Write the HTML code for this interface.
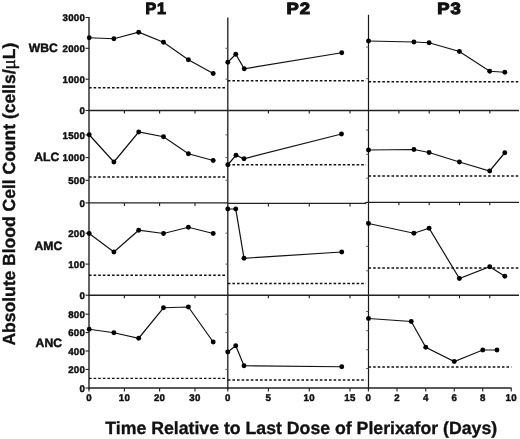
<!DOCTYPE html>
<html><head><meta charset="utf-8"><title>Figure</title>
<style>
html,body{margin:0;padding:0;background:#fff;}
svg{display:block;}
text{font-family:"Liberation Sans",sans-serif;font-weight:bold;fill:#111;text-rendering:geometricPrecision;}
.tk{font-size:9.7px;letter-spacing:0.25px;stroke:#111;stroke-width:0.45px;}
.lb{font-size:12.2px;stroke:#111;stroke-width:0.45px;}
.pt{font-size:16.3px;letter-spacing:0.9px;stroke:#111;stroke-width:1.1px;stroke-linejoin:miter;}
.ti{font-size:17.7px;stroke:#111;stroke-width:0.35px;}
.mu{stroke:#111;stroke-width:0.45px;font-family:"Liberation Serif",serif;font-weight:normal;font-size:19px;}
</style></head><body>
<svg width="520" height="439" viewBox="0 0 520 439">
<rect width="520" height="439" fill="#fff"/>
<line x1="89" y1="17" x2="89" y2="389.4" stroke="#222" stroke-width="1.4" />
<line x1="227.8" y1="17.5" x2="227.8" y2="389.5" stroke="#1c1c1c" stroke-width="1.3" />
<line x1="368.5" y1="14.8" x2="368.5" y2="389.5" stroke="#1a1a1a" stroke-width="1.2" />
<line x1="88.4" y1="110.5" x2="519" y2="110.5" stroke="#222" stroke-width="1.4" />
<line x1="88.4" y1="202.9" x2="227.8" y2="202.9" stroke="#222" stroke-width="1.4" />
<line x1="227.8" y1="203.4" x2="366.2" y2="203.4" stroke="#222" stroke-width="1.3" />
<polyline fill="none" stroke="#222" stroke-width="1.3" points="365,203.4 366.5,202.3 519,202.3"/>
<line x1="88.4" y1="295.2" x2="519" y2="295.2" stroke="#222" stroke-width="1.4" />
<line x1="88.4" y1="388.0" x2="511.5" y2="388.0" stroke="#222" stroke-width="1.4" />
<line x1="85.5" y1="17.5" x2="89" y2="17.5" stroke="#222" stroke-width="1.1" />
<text class="tk" x="85.1" y="21.10" text-anchor="end">3000</text>
<line x1="85.5" y1="48.3" x2="89" y2="48.3" stroke="#222" stroke-width="1.1" />
<text class="tk" x="85.1" y="51.90" text-anchor="end">2000</text>
<line x1="225.5" y1="48.3" x2="227.8" y2="48.3" stroke="#555" stroke-width="1.0" />
<line x1="85.5" y1="79.2" x2="89" y2="79.2" stroke="#222" stroke-width="1.1" />
<text class="tk" x="85.1" y="82.80" text-anchor="end">1000</text>
<line x1="225.5" y1="79.2" x2="227.8" y2="79.2" stroke="#555" stroke-width="1.0" />
<line x1="85.5" y1="110.5" x2="89" y2="110.5" stroke="#222" stroke-width="1.1" />
<text class="tk" x="85.1" y="114.10" text-anchor="end">0</text>
<line x1="85.5" y1="134.9" x2="89" y2="134.9" stroke="#222" stroke-width="1.1" />
<text class="tk" x="85.1" y="138.50" text-anchor="end">1500</text>
<line x1="225.5" y1="134.9" x2="227.8" y2="134.9" stroke="#555" stroke-width="1.0" />
<line x1="85.5" y1="157.6" x2="89" y2="157.6" stroke="#222" stroke-width="1.1" />
<text class="tk" x="85.1" y="161.20" text-anchor="end">1000</text>
<line x1="225.5" y1="157.6" x2="227.8" y2="157.6" stroke="#555" stroke-width="1.0" />
<line x1="85.5" y1="180.3" x2="89" y2="180.3" stroke="#222" stroke-width="1.1" />
<text class="tk" x="85.1" y="183.90" text-anchor="end">500</text>
<line x1="225.5" y1="180.3" x2="227.8" y2="180.3" stroke="#555" stroke-width="1.0" />
<line x1="85.5" y1="202.9" x2="89" y2="202.9" stroke="#222" stroke-width="1.1" />
<text class="tk" x="85.1" y="206.50" text-anchor="end">0</text>
<line x1="85.5" y1="233.2" x2="89" y2="233.2" stroke="#222" stroke-width="1.1" />
<text class="tk" x="85.1" y="236.80" text-anchor="end">200</text>
<line x1="225.5" y1="233.2" x2="227.8" y2="233.2" stroke="#555" stroke-width="1.0" />
<line x1="85.5" y1="264.1" x2="89" y2="264.1" stroke="#222" stroke-width="1.1" />
<text class="tk" x="85.1" y="267.70" text-anchor="end">100</text>
<line x1="225.5" y1="264.1" x2="227.8" y2="264.1" stroke="#555" stroke-width="1.0" />
<line x1="85.5" y1="295.2" x2="89" y2="295.2" stroke="#222" stroke-width="1.1" />
<text class="tk" x="85.1" y="298.80" text-anchor="end">0</text>
<line x1="85.5" y1="314.2" x2="89" y2="314.2" stroke="#222" stroke-width="1.1" />
<text class="tk" x="85.1" y="317.80" text-anchor="end">800</text>
<line x1="225.5" y1="314.2" x2="227.8" y2="314.2" stroke="#555" stroke-width="1.0" />
<line x1="85.5" y1="332.6" x2="89" y2="332.6" stroke="#222" stroke-width="1.1" />
<text class="tk" x="85.1" y="336.20" text-anchor="end">600</text>
<line x1="225.5" y1="332.6" x2="227.8" y2="332.6" stroke="#555" stroke-width="1.0" />
<line x1="85.5" y1="351" x2="89" y2="351" stroke="#222" stroke-width="1.1" />
<text class="tk" x="85.1" y="354.60" text-anchor="end">400</text>
<line x1="225.5" y1="351" x2="227.8" y2="351" stroke="#555" stroke-width="1.0" />
<line x1="85.5" y1="369.4" x2="89" y2="369.4" stroke="#222" stroke-width="1.1" />
<text class="tk" x="85.1" y="373.00" text-anchor="end">200</text>
<line x1="225.5" y1="369.4" x2="227.8" y2="369.4" stroke="#555" stroke-width="1.0" />
<line x1="85.5" y1="388.0" x2="89" y2="388.0" stroke="#222" stroke-width="1.1" />
<text class="tk" x="85.1" y="391.60" text-anchor="end">0</text>
<line x1="366.2" y1="47.0" x2="368.5" y2="47.0" stroke="#555" stroke-width="1.0" />
<line x1="366.2" y1="78.7" x2="368.5" y2="78.7" stroke="#555" stroke-width="1.0" />
<line x1="366.2" y1="130.1" x2="368.5" y2="130.1" stroke="#555" stroke-width="1.0" />
<line x1="366.2" y1="154.3" x2="368.5" y2="154.3" stroke="#555" stroke-width="1.0" />
<line x1="366.2" y1="178.2" x2="368.5" y2="178.2" stroke="#555" stroke-width="1.0" />
<line x1="366.2" y1="222.0" x2="368.5" y2="222.0" stroke="#555" stroke-width="1.0" />
<line x1="366.2" y1="246.4" x2="368.5" y2="246.4" stroke="#555" stroke-width="1.0" />
<line x1="366.2" y1="270.8" x2="368.5" y2="270.8" stroke="#555" stroke-width="1.0" />
<line x1="366.2" y1="311.5" x2="368.5" y2="311.5" stroke="#555" stroke-width="1.0" />
<line x1="366.2" y1="330.7" x2="368.5" y2="330.7" stroke="#555" stroke-width="1.0" />
<line x1="366.2" y1="349.8" x2="368.5" y2="349.8" stroke="#555" stroke-width="1.0" />
<line x1="366.2" y1="368.5" x2="368.5" y2="368.5" stroke="#555" stroke-width="1.0" />
<line x1="124.4" y1="110.5" x2="124.4" y2="113.5" stroke="#1a1a1a" stroke-width="1.1" />
<line x1="159.6" y1="110.5" x2="159.6" y2="113.5" stroke="#1a1a1a" stroke-width="1.1" />
<line x1="195" y1="110.5" x2="195" y2="113.5" stroke="#1a1a1a" stroke-width="1.1" />
<line x1="268.4" y1="110.5" x2="268.4" y2="113.5" stroke="#1a1a1a" stroke-width="1.1" />
<line x1="309.25" y1="110.5" x2="309.25" y2="113.5" stroke="#1a1a1a" stroke-width="1.1" />
<line x1="350" y1="110.5" x2="350" y2="113.5" stroke="#1a1a1a" stroke-width="1.1" />
<line x1="398.9" y1="110.5" x2="398.9" y2="113.5" stroke="#1a1a1a" stroke-width="1.1" />
<line x1="429.2" y1="110.5" x2="429.2" y2="113.5" stroke="#1a1a1a" stroke-width="1.1" />
<line x1="459.5" y1="110.5" x2="459.5" y2="113.5" stroke="#1a1a1a" stroke-width="1.1" />
<line x1="489.8" y1="110.5" x2="489.8" y2="113.5" stroke="#1a1a1a" stroke-width="1.1" />
<line x1="124.4" y1="202.9" x2="124.4" y2="205.9" stroke="#1a1a1a" stroke-width="1.1" />
<line x1="159.6" y1="202.9" x2="159.6" y2="205.9" stroke="#1a1a1a" stroke-width="1.1" />
<line x1="195" y1="202.9" x2="195" y2="205.9" stroke="#1a1a1a" stroke-width="1.1" />
<line x1="268.4" y1="203.4" x2="268.4" y2="206.4" stroke="#1a1a1a" stroke-width="1.1" />
<line x1="309.25" y1="203.4" x2="309.25" y2="206.4" stroke="#1a1a1a" stroke-width="1.1" />
<line x1="350" y1="203.4" x2="350" y2="206.4" stroke="#1a1a1a" stroke-width="1.1" />
<line x1="398.9" y1="202.3" x2="398.9" y2="205.3" stroke="#1a1a1a" stroke-width="1.1" />
<line x1="429.2" y1="202.3" x2="429.2" y2="205.3" stroke="#1a1a1a" stroke-width="1.1" />
<line x1="459.5" y1="202.3" x2="459.5" y2="205.3" stroke="#1a1a1a" stroke-width="1.1" />
<line x1="489.8" y1="202.3" x2="489.8" y2="205.3" stroke="#1a1a1a" stroke-width="1.1" />
<line x1="124.4" y1="295.2" x2="124.4" y2="298.2" stroke="#1a1a1a" stroke-width="1.1" />
<line x1="159.6" y1="295.2" x2="159.6" y2="298.2" stroke="#1a1a1a" stroke-width="1.1" />
<line x1="195" y1="295.2" x2="195" y2="298.2" stroke="#1a1a1a" stroke-width="1.1" />
<line x1="268.4" y1="295.2" x2="268.4" y2="298.2" stroke="#1a1a1a" stroke-width="1.1" />
<line x1="309.25" y1="295.2" x2="309.25" y2="298.2" stroke="#1a1a1a" stroke-width="1.1" />
<line x1="350" y1="295.2" x2="350" y2="298.2" stroke="#1a1a1a" stroke-width="1.1" />
<line x1="398.9" y1="295.2" x2="398.9" y2="298.2" stroke="#1a1a1a" stroke-width="1.1" />
<line x1="429.2" y1="295.2" x2="429.2" y2="298.2" stroke="#1a1a1a" stroke-width="1.1" />
<line x1="459.5" y1="295.2" x2="459.5" y2="298.2" stroke="#1a1a1a" stroke-width="1.1" />
<line x1="489.8" y1="295.2" x2="489.8" y2="298.2" stroke="#1a1a1a" stroke-width="1.1" />
<line x1="89" y1="388.0" x2="89" y2="391.5" stroke="#222" stroke-width="1.1" />
<text class="tk" x="89" y="401.3" text-anchor="middle">0</text>
<line x1="124.4" y1="388.0" x2="124.4" y2="391.5" stroke="#222" stroke-width="1.1" />
<text class="tk" x="124.4" y="401.3" text-anchor="middle">10</text>
<line x1="159.6" y1="388.0" x2="159.6" y2="391.5" stroke="#222" stroke-width="1.1" />
<text class="tk" x="159.6" y="401.3" text-anchor="middle">20</text>
<line x1="195" y1="388.0" x2="195" y2="391.5" stroke="#222" stroke-width="1.1" />
<text class="tk" x="195" y="401.3" text-anchor="middle">30</text>
<line x1="227.8" y1="388.0" x2="227.8" y2="391.5" stroke="#222" stroke-width="1.1" />
<text class="tk" x="227.8" y="401.3" text-anchor="middle">0</text>
<line x1="268.4" y1="388.0" x2="268.4" y2="391.5" stroke="#222" stroke-width="1.1" />
<text class="tk" x="268.4" y="401.3" text-anchor="middle">5</text>
<line x1="309.25" y1="388.0" x2="309.25" y2="391.5" stroke="#222" stroke-width="1.1" />
<text class="tk" x="309.25" y="401.3" text-anchor="middle">10</text>
<line x1="350" y1="388.0" x2="350" y2="391.5" stroke="#222" stroke-width="1.1" />
<text class="tk" x="350" y="401.3" text-anchor="middle">15</text>
<line x1="368.4" y1="388.0" x2="368.4" y2="391.5" stroke="#222" stroke-width="1.1" />
<text class="tk" x="368.4" y="401.3" text-anchor="middle">0</text>
<line x1="397" y1="388.0" x2="397" y2="391.5" stroke="#222" stroke-width="1.1" />
<text class="tk" x="397" y="401.3" text-anchor="middle">2</text>
<line x1="425.75" y1="388.0" x2="425.75" y2="391.5" stroke="#222" stroke-width="1.1" />
<text class="tk" x="425.75" y="401.3" text-anchor="middle">4</text>
<line x1="454.25" y1="388.0" x2="454.25" y2="391.5" stroke="#222" stroke-width="1.1" />
<text class="tk" x="454.25" y="401.3" text-anchor="middle">6</text>
<line x1="482.75" y1="388.0" x2="482.75" y2="391.5" stroke="#222" stroke-width="1.1" />
<text class="tk" x="482.75" y="401.3" text-anchor="middle">8</text>
<line x1="511.25" y1="388.0" x2="511.25" y2="391.5" stroke="#222" stroke-width="1.1" />
<text class="tk" x="511.25" y="401.3" text-anchor="middle">10</text>
<line x1="89" y1="87.7" x2="225.3" y2="87.7" stroke="#111" stroke-width="1.35" stroke-dasharray="2.6 2"/>
<polyline fill="none" stroke="#111" stroke-width="1.2" points="89.2,37.75 113.9,38.75 138.7,32.25 163.5,42.25 188.4,59.75 213.2,73.5"/>
<circle cx="89.2" cy="37.75" r="2.45" fill="#000"/>
<circle cx="113.9" cy="38.75" r="2.45" fill="#000"/>
<circle cx="138.7" cy="32.25" r="2.45" fill="#000"/>
<circle cx="163.5" cy="42.25" r="2.45" fill="#000"/>
<circle cx="188.4" cy="59.75" r="2.45" fill="#000"/>
<circle cx="213.2" cy="73.5" r="2.45" fill="#000"/>
<line x1="89" y1="176.95" x2="225.3" y2="176.95" stroke="#111" stroke-width="1.35" stroke-dasharray="2.6 2"/>
<polyline fill="none" stroke="#111" stroke-width="1.2" points="89.2,134.75 113.9,162.0 138.7,132.0 163.5,136.75 188.4,153.75 213.2,160.5"/>
<circle cx="89.2" cy="134.75" r="2.45" fill="#000"/>
<circle cx="113.9" cy="162.0" r="2.45" fill="#000"/>
<circle cx="138.7" cy="132.0" r="2.45" fill="#000"/>
<circle cx="163.5" cy="136.75" r="2.45" fill="#000"/>
<circle cx="188.4" cy="153.75" r="2.45" fill="#000"/>
<circle cx="213.2" cy="160.5" r="2.45" fill="#000"/>
<line x1="89" y1="275.2" x2="225.3" y2="275.2" stroke="#111" stroke-width="1.35" stroke-dasharray="2.6 2"/>
<polyline fill="none" stroke="#111" stroke-width="1.2" points="89.2,233.5 113.9,252.0 138.7,230.25 163.5,233.5 188.4,227.25 213.2,233.5"/>
<circle cx="89.2" cy="233.5" r="2.45" fill="#000"/>
<circle cx="113.9" cy="252.0" r="2.45" fill="#000"/>
<circle cx="138.7" cy="230.25" r="2.45" fill="#000"/>
<circle cx="163.5" cy="233.5" r="2.45" fill="#000"/>
<circle cx="188.4" cy="227.25" r="2.45" fill="#000"/>
<circle cx="213.2" cy="233.5" r="2.45" fill="#000"/>
<line x1="89" y1="378.3" x2="225.3" y2="378.3" stroke="#111" stroke-width="1.35" stroke-dasharray="2.6 2"/>
<polyline fill="none" stroke="#111" stroke-width="1.2" points="89.2,329.25 113.9,332.75 138.7,338.25 163.5,307.75 188.4,307.0 213.2,342.0"/>
<circle cx="89.2" cy="329.25" r="2.45" fill="#000"/>
<circle cx="113.9" cy="332.75" r="2.45" fill="#000"/>
<circle cx="138.7" cy="338.25" r="2.45" fill="#000"/>
<circle cx="163.5" cy="307.75" r="2.45" fill="#000"/>
<circle cx="188.4" cy="307.0" r="2.45" fill="#000"/>
<circle cx="213.2" cy="342.0" r="2.45" fill="#000"/>
<line x1="227.8" y1="80.7" x2="366" y2="80.7" stroke="#111" stroke-width="1.35" stroke-dasharray="2.6 2"/>
<polyline fill="none" stroke="#111" stroke-width="1.2" points="227.8,62.25 235.75,54.25 244.25,68.75 341.75,52.75"/>
<circle cx="227.8" cy="62.25" r="2.45" fill="#000"/>
<circle cx="235.75" cy="54.25" r="2.45" fill="#000"/>
<circle cx="244.25" cy="68.75" r="2.45" fill="#000"/>
<circle cx="341.75" cy="52.75" r="2.45" fill="#000"/>
<line x1="227.8" y1="164.7" x2="366" y2="164.7" stroke="#111" stroke-width="1.35" stroke-dasharray="2.6 2"/>
<polyline fill="none" stroke="#111" stroke-width="1.2" points="227.8,164.75 236,155.25 244,158.75 341.5,134.0"/>
<circle cx="227.8" cy="164.75" r="2.45" fill="#000"/>
<circle cx="236" cy="155.25" r="2.45" fill="#000"/>
<circle cx="244" cy="158.75" r="2.45" fill="#000"/>
<circle cx="341.5" cy="134.0" r="2.45" fill="#000"/>
<line x1="227.8" y1="283.45" x2="366" y2="283.45" stroke="#111" stroke-width="1.35" stroke-dasharray="2.6 2"/>
<polyline fill="none" stroke="#111" stroke-width="1.2" points="227.8,209.0 235.75,209.0 244,258.25 341.75,252.0"/>
<circle cx="227.8" cy="209.0" r="2.45" fill="#000"/>
<circle cx="235.75" cy="209.0" r="2.45" fill="#000"/>
<circle cx="244" cy="258.25" r="2.45" fill="#000"/>
<circle cx="341.75" cy="252.0" r="2.45" fill="#000"/>
<line x1="227.8" y1="380.0" x2="366" y2="380.0" stroke="#111" stroke-width="1.35" stroke-dasharray="2.6 2"/>
<polyline fill="none" stroke="#111" stroke-width="1.2" points="227.8,352.0 235.75,345.75 244,365.75 341.75,366.75"/>
<circle cx="227.8" cy="352.0" r="2.45" fill="#000"/>
<circle cx="235.75" cy="345.75" r="2.45" fill="#000"/>
<circle cx="244" cy="365.75" r="2.45" fill="#000"/>
<circle cx="341.75" cy="366.75" r="2.45" fill="#000"/>
<line x1="368.5" y1="81.7" x2="520" y2="81.7" stroke="#111" stroke-width="1.35" stroke-dasharray="2.6 2"/>
<polyline fill="none" stroke="#111" stroke-width="1.2" points="368.5,41.0 413.9,42.0 429.1,42.75 459.4,51.5 489.7,71.25 504.8,72.25"/>
<circle cx="368.5" cy="41.0" r="2.45" fill="#000"/>
<circle cx="413.9" cy="42.0" r="2.45" fill="#000"/>
<circle cx="429.1" cy="42.75" r="2.45" fill="#000"/>
<circle cx="459.4" cy="51.5" r="2.45" fill="#000"/>
<circle cx="489.7" cy="71.25" r="2.45" fill="#000"/>
<circle cx="504.8" cy="72.25" r="2.45" fill="#000"/>
<line x1="368.5" y1="175.95" x2="520" y2="175.95" stroke="#111" stroke-width="1.35" stroke-dasharray="2.6 2"/>
<polyline fill="none" stroke="#111" stroke-width="1.2" points="368.5,150.0 413.9,149.5 429.1,152.5 459.4,162.0 489.7,171.0 504.8,152.75"/>
<circle cx="368.5" cy="150.0" r="2.45" fill="#000"/>
<circle cx="413.9" cy="149.5" r="2.45" fill="#000"/>
<circle cx="429.1" cy="152.5" r="2.45" fill="#000"/>
<circle cx="459.4" cy="162.0" r="2.45" fill="#000"/>
<circle cx="489.7" cy="171.0" r="2.45" fill="#000"/>
<circle cx="504.8" cy="152.75" r="2.45" fill="#000"/>
<line x1="368.5" y1="267.95" x2="520" y2="267.95" stroke="#111" stroke-width="1.35" stroke-dasharray="2.6 2"/>
<polyline fill="none" stroke="#111" stroke-width="1.2" points="368.5,223.5 413.9,233.25 429.1,228.25 459.4,278.5 489.7,266.75 504.8,276.25"/>
<circle cx="368.5" cy="223.5" r="2.45" fill="#000"/>
<circle cx="413.9" cy="233.25" r="2.45" fill="#000"/>
<circle cx="429.1" cy="228.25" r="2.45" fill="#000"/>
<circle cx="459.4" cy="278.5" r="2.45" fill="#000"/>
<circle cx="489.7" cy="266.75" r="2.45" fill="#000"/>
<circle cx="504.8" cy="276.25" r="2.45" fill="#000"/>
<line x1="368.5" y1="366.95" x2="511.5" y2="366.95" stroke="#111" stroke-width="1.35" stroke-dasharray="2.6 2"/>
<polyline fill="none" stroke="#111" stroke-width="1.2" points="368.5,318.5 411.25,321.5 425.75,347.25 454.25,361.5 482.75,350.0 497,350.0"/>
<circle cx="368.5" cy="318.5" r="2.45" fill="#000"/>
<circle cx="411.25" cy="321.5" r="2.45" fill="#000"/>
<circle cx="425.75" cy="347.25" r="2.45" fill="#000"/>
<circle cx="454.25" cy="361.5" r="2.45" fill="#000"/>
<circle cx="482.75" cy="350.0" r="2.45" fill="#000"/>
<circle cx="497" cy="350.0" r="2.45" fill="#000"/>
<text class="lb" x="57.9" y="52.3" text-anchor="end">WBC</text>
<text class="lb" x="59.3" y="160.6" text-anchor="end">ALC</text>
<text class="lb" x="62.3" y="249.8" text-anchor="end">AMC</text>
<text class="lb" x="62.0" y="347" text-anchor="end">ANC</text>
<text class="pt" transform="translate(156.2,14.1) scale(0.98,1)" text-anchor="middle">P1</text>
<text class="pt" transform="translate(298.8,14.1) scale(1.13,1)" text-anchor="middle">P2</text>
<text class="pt" transform="translate(449.5,14.1) scale(1.13,1)" text-anchor="middle">P3</text>
<text class="ti" x="105.3" y="433.7">Time Relative to Last Dose of Plerixafor (Days)</text>
<text class="ti" style="font-size:17.5px" transform="translate(14.75,345.6) rotate(-90)">Absolute Blood Cell Count (cells/<tspan class="mu">μ</tspan>L)</text>
</svg>
</body></html>
